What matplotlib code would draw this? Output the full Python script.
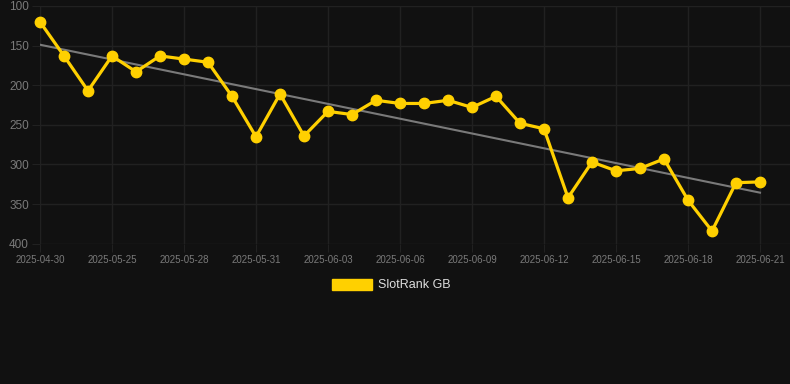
import matplotlib
matplotlib.use("Agg")
import matplotlib.pyplot as plt
import numpy as np

dates = ["2025-04-30", "2025-05-23", "2025-05-24", "2025-05-25", "2025-05-26", "2025-05-27",
         "2025-05-28", "2025-05-29", "2025-05-30", "2025-05-31", "2025-06-01", "2025-06-02",
         "2025-06-03", "2025-06-04", "2025-06-05", "2025-06-06", "2025-06-07", "2025-06-08",
         "2025-06-09", "2025-06-10", "2025-06-11", "2025-06-12", "2025-06-13", "2025-06-14",
         "2025-06-15", "2025-06-16", "2025-06-17", "2025-06-18", "2025-06-19", "2025-06-20",
         "2025-06-21"]
ranks = [120, 163, 207, 163, 183, 163, 167, 171, 214, 265, 211,
         264, 233, 237, 219, 223, 223, 219, 228, 214, 248,
         255, 342, 297, 308, 305, 293, 345, 384, 323, 322]
series_name = "SlotRank GB"
y_ticks = [100, 150, 200, 250, 300, 350, 400]

BG = "#111111"
GRID = "#212121"
GOLD = "#FFD000"
TICK_C = "#7a7a7a"

W, H = 790, 384
fig = plt.figure(figsize=(W / 100, H / 100), dpi=100, facecolor=BG)
ax = fig.add_axes([40 / W, 1 - 243.7 / H, 750 / W, (243.7 - 6) / H], facecolor=BG)

x = np.arange(len(ranks))
coef = np.polyfit(x, ranks, 1)
ax.plot(x, np.polyval(coef, x), color="#7a7a7a", lw=1.5, zorder=2)
ax.plot(x, ranks, color=GOLD, lw=2.3, marker="o", ms=7.5, zorder=3, clip_on=False)

ax.set_ylim(400, 100)
ax.set_xlim(0, (790 - 40) / 24)
ax.set_yticks(y_ticks)
ax.set_xticks(x[::3])
ax.set_xticklabels(dates[::3])
ax.grid(True, color=GRID, lw=1)
ax.set_axisbelow(True)
for s in ax.spines.values():
    s.set_visible(False)
ax.tick_params(axis="y", colors=GRID, length=6, pad=2, labelcolor=TICK_C, labelsize=8.5)
ax.tick_params(axis="x", colors=GRID, length=6, pad=2, labelcolor=TICK_C, labelsize=7)
for lab in ax.get_yticklabels() + ax.get_xticklabels():
    lab.set_fontfamily("Liberation Sans")

fig.patches.append(plt.Rectangle((332 / W, 1 - 289.5 / H), 40 / W, 11 / H,
                                 transform=fig.transFigure, facecolor=GOLD, edgecolor=GOLD))
fig.text(378 / W, 1 - 285 / H, series_name, color="#dddddd", fontsize=9,
         va="center", ha="left", family="Liberation Sans")

fig.savefig("out.png", dpi=100, facecolor=BG)
